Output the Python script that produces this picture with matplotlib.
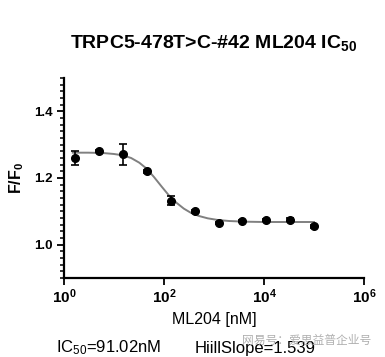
import numpy as np
import matplotlib
matplotlib.use("Agg")
import matplotlib.pyplot as plt
from matplotlib.ticker import FixedLocator, MultipleLocator, FuncFormatter

plt.rcParams['font.family'] = ['Liberation Sans', 'DejaVu Sans']
plt.rcParams['mathtext.fontset'] = 'custom'
plt.rcParams['mathtext.rm'] = 'Liberation Sans'
plt.rcParams['mathtext.bf'] = 'Liberation Sans:bold'
plt.rcParams['mathtext.it'] = 'Liberation Sans:italic'
plt.rcParams['mathtext.default'] = 'regular'

# ---- data ----
conc_nM = [1.69, 5.08, 15.2, 45.7, 137, 412, 1235, 3704, 11111, 33333, 100000]
ratio = [1.261, 1.281, 1.271, 1.220, 1.132, 1.100, 1.065, 1.070, 1.075, 1.075, 1.055]
ratio_err = [0.021, 0.003, 0.031, 0.004, 0.013, 0.004, 0.004, 0.003, 0.003, 0.004, 0.004]

# fitted curve
fit_x = [1.5, 3, 6, 10, 15, 22, 32, 45, 63, 90, 125, 180, 250, 350, 500,
         750, 1200, 2000, 4000, 10000, 100000]
fit_y = [1.276, 1.276, 1.275, 1.272, 1.268, 1.260, 1.246, 1.228, 1.203, 1.174,
         1.148, 1.125, 1.108, 1.095, 1.086, 1.079, 1.074, 1.071, 1.069, 1.068, 1.068]

x_ticks = [1, 1e2, 1e4, 1e6]
y_ticks = [1.0, 1.2, 1.4]

fig = plt.figure(figsize=(3.85, 3.57), dpi=100)
ax = fig.add_axes([64 / 385, 1 - 278 / 357, 300 / 385, 200 / 357])

ax.plot(fit_x, fit_y, color='#808080', lw=1.4, zorder=2)
ax.errorbar(conc_nM, ratio, yerr=ratio_err, fmt='o', color='black', ms=5.5,
            elinewidth=1.2, capsize=2.6, capthick=1.2, zorder=3)

ax.set_xscale('log')
ax.set_xlim(1, 1e6)
ax.set_ylim(0.9, 1.5)
ax.xaxis.set_major_locator(FixedLocator(x_ticks))
ax.xaxis.set_minor_locator(FixedLocator([]))
ax.xaxis.set_major_formatter(FuncFormatter(
    lambda v, p: r'$\mathbf{10^{%d}}$' % round(np.log10(v))))
ax.yaxis.set_major_locator(FixedLocator(y_ticks))
ax.yaxis.set_minor_locator(MultipleLocator(0.02))
ax.yaxis.set_major_formatter(FuncFormatter(lambda v, p: '%.1f' % v))

for s in ['top', 'right']:
    ax.spines[s].set_visible(False)
for s in ['left', 'bottom']:
    ax.spines[s].set_linewidth(1.6)

ax.tick_params(which='major', direction='out', length=5, width=1.3,
               labelsize=9.5, pad=3)
ax.tick_params(axis='x', which='major', labelsize=11, pad=2)
ax.tick_params(which='minor', direction='out', length=2.6, width=1.1)
for lab in ax.get_yticklabels():
    lab.set_fontweight('bold')

ax.set_ylabel(r'F/F$\mathbf{_0}$', fontsize=11.5, fontweight='bold', labelpad=6)
ax.set_xlabel('ML204 [nM]', fontsize=11.5, labelpad=4)

fig.text(214 / 385, 1 - 43 / 357, r'TRPC5-478T>C-#42 ML204 IC$\mathbf{_{50}}$',
         ha='center', va='center', fontsize=14, fontweight='bold')

fig.text(56 / 385, 1 - 348 / 357, r'IC$_{50}$=91.02nM', ha='left',
         va='center', fontsize=12)
fig.text(195 / 385, 1 - 348 / 357, 'HiillSlope=1.539', ha='left',
         va='center', fontsize=12)

# watermark
fig.text(242 / 385, 1 - 340 / 357, '网易号：爱思益普企业号', ha='left', va='center',
         fontsize=8.5, color='#b0b0b0',
         family=['Noto Sans CJK SC', 'DejaVu Sans'])

fig.savefig('out.png', dpi=100)
